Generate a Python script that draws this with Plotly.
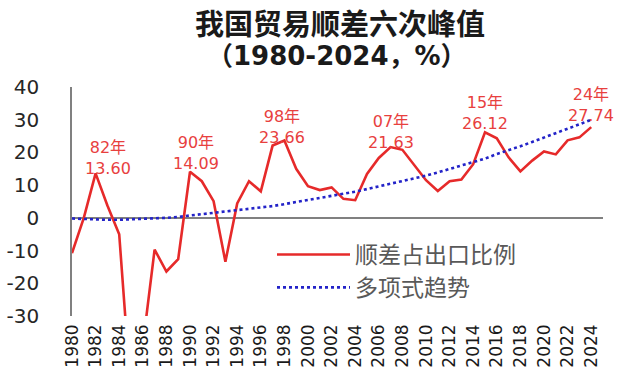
import plotly.graph_objects as go

years = list(range(1980, 2025))
ratio = [-10.8, 0.0, 13.60, 3.8, -5.0, -54.0, -39.0, -9.7, -16.4, -12.6,
         14.09, 11.2, 5.1, -13.4, 4.4, 11.2, 8.1, 22.1, 23.66, 15.0,
         9.7, 8.5, 9.3, 5.8, 5.4, 13.4, 18.3, 21.63, 20.8, 16.3,
         11.5, 8.2, 11.2, 11.7, 16.4, 26.12, 24.3, 18.5, 14.2, 17.5,
         20.3, 19.4, 23.7, 24.6, 27.74]
trend = [-0.2, -0.4, -0.5, -0.6, -0.6, -0.5, -0.4, -0.2, 0.0, 0.3,
         0.7, 1.0, 1.4, 1.8, 2.2, 2.6, 3.0, 3.6, 4.2, 4.8,
         5.4, 6.0, 6.6, 7.2, 8.0, 8.8, 9.6, 10.5, 11.3, 12.1,
         12.9, 13.9, 14.9, 16.0, 17.0, 18.1, 19.5, 20.6, 21.9, 23.2,
         24.5, 25.9, 27.2, 28.6, 30.0]
peak_years = [1982, 1990, 1998, 2007, 2015, 2024]
peak_tags = ["82年", "90年", "98年", "07年", "15年", "24年"]
peak_vals = [13.60, 14.09, 23.66, 21.63, 26.12, 27.74]
tick_years = years[::2]
tick_text = [str(y) for y in tick_years]
y_ticks = [-30, -20, -10, 0, 10, 20, 30, 40]
y_tick_text = [str(v) for v in y_ticks]

W, H = 619, 379
L, R, T, B = 72, 16, 87, 63
def px_x(p):
    return (p - L) / (W - L - R)
def px_y(p):
    return (H - B - p) / (H - T - B)

fig = go.Figure()
fig.add_trace(go.Scatter(x=years, y=ratio, mode="lines", name="顺差占出口比例",
                         line=dict(color="#e62a2a", width=2.6)))
fig.add_trace(go.Scatter(x=years, y=trend, mode="lines", name="多项式趋势",
                         line=dict(color="#2323c8", width=2.6, dash="dot")))

xshifts = [12, 6, -2, 0, 0, 0]
yshifts = [-7, -3, -9, -7, -3, 0]
for yr, tag, v, xs, ys in zip(peak_years, peak_tags, peak_vals, xshifts, yshifts):
    fig.add_annotation(x=yr, y=v, text=f"{tag}<br>{v:.2f}", showarrow=False,
                       xanchor="center", yanchor="bottom", xshift=xs, yshift=ys,
                       font=dict(family="DejaVu Sans, Noto Sans CJK SC", size=16, color="#e8403e"))

fig.add_annotation(xref="paper", yref="paper", x=px_x(340), y=px_y(22),
                   text="我国贸易顺差六次峰值", showarrow=False, xanchor="center", yanchor="middle",
                   borderpad=0,
                   font=dict(family="Noto Sans CJK SC", size=29, color="#1a1a1a", weight="bold"))
fig.add_annotation(xref="paper", yref="paper", x=px_x(337), y=px_y(56),
                   text="（1980-2024，%）", showarrow=False, xanchor="center", yanchor="middle",
                   borderpad=0,
                   font=dict(family="DejaVu Sans, Noto Sans CJK SC", size=26, color="#1a1a1a", weight="bold"))

fig.update_layout(
    width=W, height=H,
    margin=dict(l=L, r=R, t=T, b=B, autoexpand=False),
    paper_bgcolor="white", plot_bgcolor="white",
    showlegend=True,
    legend=dict(xref="paper", yref="paper", x=px_x(272), y=px_y(233),
                xanchor="left", yanchor="top", itemwidth=73,
                font=dict(family="Noto Sans CJK SC", size=23, color="#595959"),
                bgcolor="rgba(0,0,0,0)", borderwidth=0, tracegroupgap=0),
    xaxis=dict(range=[1980, 2025], tickmode="array", tickvals=tick_years, ticktext=tick_text,
               tickangle=-90, showgrid=False, showline=False, zeroline=False, ticks="",
               ticklabelstandoff=4,
               tickfont=dict(family="DejaVu Sans", size=17, color="#1a1a1a")),
    yaxis=dict(range=[-30, 40], tickmode="array", tickvals=y_ticks, ticktext=y_tick_text,
               showgrid=False, showline=True, linecolor="#808080", linewidth=1.5,
               zeroline=True, zerolinecolor="#808080", zerolinewidth=1.5,
               ticks="", ticklabelstandoff=27,
               tickfont=dict(family="DejaVu Sans", size=20, color="#262626")),
)

fig.write_html("out.html", config={"displayModeBar": False},
               post_script="document.body.style.margin='0px';")
